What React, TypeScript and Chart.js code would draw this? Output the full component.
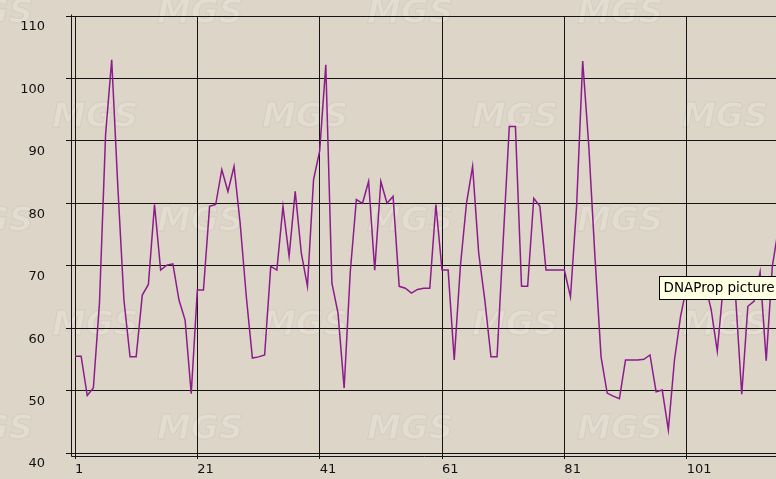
import React, { useEffect, useRef } from 'react';
import { Chart, registerables } from 'chart.js';

Chart.register(...registerables);

// ---- data ----
const seriesValues: number[] = [
  55.5, 55.5, 49.2, 50.4, 64, 91, 103, 82.7, 64.5, 55.4,
  55.4, 65.3, 67, 79.8, 69.3, 70.1, 70.3, 64.5, 61.3, 49.5,
  66.1, 66.1, 79.5, 79.8, 85.4, 81.9, 85.9, 76.8, 65.1, 55.2,
  55.4, 55.7, 69.9, 69.3, 79.5, 71.5, 81.9, 72.0, 66.7, 83.8,
  88.4, 102.2, 67.2, 62.4, 50.4, 69, 80.6, 80.0, 83.5, 69.3,
  83.5, 80.0, 81.1, 66.7, 66.4, 65.6, 66.2, 66.4, 66.4, 79.8,
  69.3, 69.3, 54.9, 69.9, 80.0, 85.9, 72.0, 64.5, 55.4, 55.4,
  74, 92.3, 92.3, 66.7, 66.7, 80.8, 79.5, 69.3, 69.3, 69.3,
  69.3, 65.0, 79.5, 102.8, 89.1, 71.5, 55.4, 49.6, 49.1, 48.7,
  54.9, 54.9, 54.9, 55.0, 55.7, 49.8, 50.1, 43.7, 54.9, 61.9,
  66.7, 67.5, 66, 67, 63, 56.3, 67, 66, 65, 49.4,
  63.5, 64.3, 69, 54.8, 69.9, 76,
];
const firstPosition = 1;
const xTickValues: number[] = [1, 21, 41, 61, 81, 101];
const yTickValues: number[] = [40, 50, 60, 70, 80, 90, 100, 110];
const xRange: number[] = [1, 115.6];
const watermarkText = 'MGS';
const tooltipText = 'DNAProp picture';
const tooltipAnchor = { x: 96.5, y: 68.35 };

const BG = '#ddd5c8';
const GRID = '#141414';
const LINE = '#8c1c8c';
const FONT = '"DejaVu Sans", Verdana, Tahoma, sans-serif';

const decorPlugin = {
  id: 'decor',
  beforeDraw(chart: any) {
    const { ctx, width, height } = chart;
    ctx.save();
    ctx.fillStyle = BG;
    ctx.fillRect(0, 0, width, height);
    ctx.font = `italic bold 34px ${FONT}`;
    ctx.textAlign = 'center';
    ctx.textBaseline = 'middle';
    for (let r = 0; r < 5; r++) {
      const y = 14 + r * 104;
      const off = r % 2 === 0 ? 200 : 95;
      for (let c = -1; c < 4; c++) {
        const x = off + c * 210;
        ctx.fillStyle = 'rgba(228,222,212,0.75)';
        ctx.fillText(watermarkText, x, y);
        ctx.strokeStyle = 'rgba(205,196,182,0.55)';
        ctx.lineWidth = 1;
        ctx.strokeText(watermarkText, x, y);
      }
    }
    ctx.restore();
  },
  afterDraw(chart: any) {
    const { ctx, chartArea, scales } = chart;
    const { left, top, bottom, right } = chartArea;
    ctx.save();
    ctx.strokeStyle = GRID;
    ctx.lineWidth = 1;
    ctx.beginPath();
    const lx = Math.round(left) - 3.5;
    const by = Math.round(bottom) + 3.5;
    ctx.moveTo(lx, Math.round(top) - 1.5);
    ctx.lineTo(lx, by);
    ctx.lineTo(right + 2, by);
    ctx.stroke();

    // tooltip box
    const tx = Math.round(scales.x.getPixelForValue(tooltipAnchor.x)) + 0.5;
    const ty = Math.round(scales.y.getPixelForValue(tooltipAnchor.y)) + 0.5;
    ctx.font = `13.5px ${FONT}`;
    const w = ctx.measureText(tooltipText).width + 8;
    ctx.fillStyle = '#ffffe1';
    ctx.fillRect(tx, ty, w, 23);
    ctx.strokeStyle = '#000';
    ctx.strokeRect(tx, ty, w, 23);
    ctx.fillStyle = '#000';
    ctx.textBaseline = 'middle';
    ctx.textAlign = 'left';
    ctx.fillText(tooltipText, tx + 4, ty + 12);
    ctx.restore();
  },
};

export default function App() {
  const canvasRef = useRef<HTMLCanvasElement | null>(null);

  useEffect(() => {
    const canvas = canvasRef.current;
    if (!canvas) return;
    const points = seriesValues.map((v, i) => ({ x: firstPosition + i, y: v }));
    const chart = new Chart(canvas, {
      type: 'line',
      data: {
        datasets: [
          {
            data: points,
            borderColor: LINE,
            borderWidth: 1.5,
            pointRadius: 0,
            tension: 0,
            fill: false,
          },
        ],
      },
      options: {
        animation: false,
        responsive: false,
        devicePixelRatio: 1,
        layout: { padding: { top: 16, right: 0, bottom: 0, left: 0 } },
        plugins: { legend: { display: false }, tooltip: { enabled: false } },
        scales: {
          x: {
            type: 'linear',
            min: xRange[0],
            max: xRange[1],
            afterBuildTicks: (scale: any) => {
              scale.ticks = xTickValues.map((v) => ({ value: v }));
            },
            afterFit: (scale: any) => {
              scale.height = 26;
              scale.paddingLeft = 0;
              scale.paddingRight = 0;
            },
            grid: { color: GRID, lineWidth: 1, tickLength: 6, drawTicks: true },
            border: { display: true, color: GRID, width: 1 },
            ticks: {
              align: 'start',
              padding: 3,
              color: '#111',
              font: { family: FONT, size: 13 },
              autoSkip: false,
              maxRotation: 0,
            },
          },
          y: {
            type: 'linear',
            min: yTickValues[0],
            max: yTickValues[yTickValues.length - 1],
            afterBuildTicks: (scale: any) => {
              scale.ticks = yTickValues.map((v) => ({ value: v }));
            },
            afterFit: (scale: any) => {
              scale.width = 75;
              scale.paddingTop = 0;
              scale.paddingBottom = 0;
            },
            grid: { color: GRID, lineWidth: 1, tickLength: 9, drawTicks: true },
            border: { display: true, color: GRID, width: 1 },
            ticks: {
              padding: 21,
              labelOffset: 11,
              color: '#111',
              font: { family: FONT, size: 13 },
            },
          },
        },
      },
      plugins: [decorPlugin],
    } as any);
    return () => chart.destroy();
  }, []);

  return (
    <div style={{ position: 'fixed', left: 0, top: 0, width: 776, height: 479, overflow: 'hidden' }}>
      <canvas ref={canvasRef} width={776} height={479} style={{ display: 'block' }} />
    </div>
  );
}
